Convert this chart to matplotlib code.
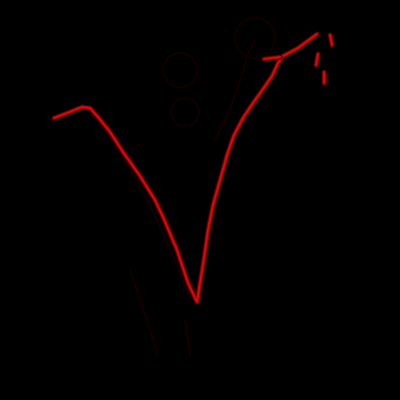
import matplotlib
matplotlib.use("Agg")
import matplotlib.pyplot as plt
import numpy as np

# Main red trace (pixel-space data)
main_x = [54, 67, 82, 90, 98, 110, 123, 140, 155, 163, 177, 188, 197,
          200, 204, 208, 213, 220, 227, 234, 243, 253, 263, 272, 278, 283, 298, 317]
main_y = [118, 113, 107, 108, 117, 132, 152, 176, 200, 217, 250, 283, 302,
          283, 258, 230, 205, 180, 155, 135, 118, 103, 89, 76, 63, 56, 48, 34]

# small side branch near the top right
branch_x = [264, 272, 280]
branch_y = [59, 58, 57]

# short separated strokes at the far top right
stroke1_x = [330, 332]
stroke1_y = [35, 45]
stroke2_x = [318, 316]
stroke2_y = [54, 65]
stroke3_x = [324, 324]
stroke3_y = [72, 83]

# faint ghost traces
ghost_x = [[100, 125, 150, 175, 190], [215, 230, 240, 248, 255],
           [130, 140, 150, 158], [185, 188, 190]]
ghost_y = [[125, 160, 205, 260, 300], [140, 110, 80, 55, 40],
           [270, 300, 330, 355], [320, 340, 355]]
circ_cx = [180, 255, 185]
circ_cy = [70, 38, 112]
circ_r = [17, 20, 14]

fig = plt.figure(figsize=(4, 4), dpi=100, facecolor="black")
ax = fig.add_axes([0, 0, 1, 1])
ax.set_facecolor("black")
ax.set_xlim(0, 400)
ax.set_ylim(400, 0)
ax.axis("off")

for gx, gy in zip(ghost_x, ghost_y):
    ax.plot(gx, gy, color="#140000", lw=1.5, solid_capstyle="round")
t = np.linspace(0, 2 * np.pi, 100)
for cx, cy, r in zip(circ_cx, circ_cy, circ_r):
    ax.plot(cx + r * np.cos(t), cy + r * np.sin(t), color="#120000", lw=1.5)

segs = [(main_x, main_y), (branch_x, branch_y), (stroke1_x, stroke1_y),
        (stroke2_x, stroke2_y), (stroke3_x, stroke3_y)]
for sx, sy in segs:
    ax.plot(sx, sy, color="#3a0000", lw=3.8, solid_capstyle="round", solid_joinstyle="round")
    ax.plot(sx, sy, color="#900000", lw=2.6, solid_capstyle="round", solid_joinstyle="round")
    ax.plot(sx, sy, color="#e00808", lw=1.3, solid_capstyle="round", solid_joinstyle="round")

fig.savefig("out.png", dpi=100, facecolor="black")
